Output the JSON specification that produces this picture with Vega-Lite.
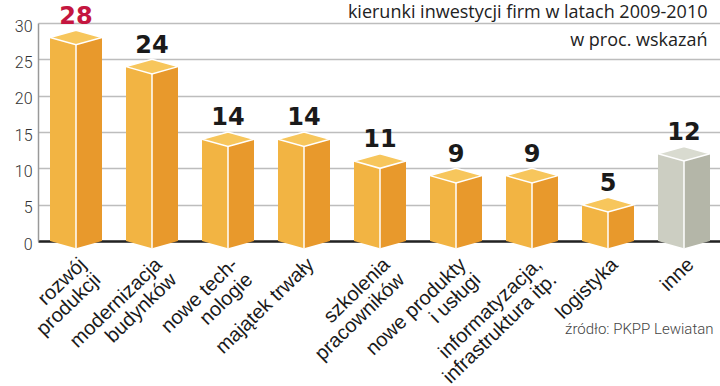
{
  "$schema": "https://vega.github.io/schema/vega-lite/v6.json",
  "width": 684,
  "height": 218,
  "autosize": {"type": "none"},
  "padding": {"left": 38, "top": 23, "right": 0, "bottom": 145},
  "background": "white",
  "config": {
    "view": {"stroke": null},
    "axisY": {
      "grid": true,
      "gridColor": "#bdbdbd",
      "gridWidth": 1.5,
      "ticks": false,
      "domainColor": "#999999",
      "domainWidth": 1.5,
      "labelFont": "Roboto",
      "labelFontWeight": 300,
      "labelFontSize": 16,
      "labelColor": "#333333",
      "labelPadding": 6,
      "labelOffset": 3,
      "zindex": 0,
      "titleAngle": 0,
      "titleX": 669,
      "titleY": -6,
      "titleAlign": "right",
      "titleBaseline": "alphabetic",
      "titleLineHeight": 28,
      "titleFont": "Open Sans",
      "titleFontSize": 18,
      "titleFontWeight": "normal",
      "titleColor": "#222222"
    }
  },
  "data": {
    "values": [
      {"kierunek": "rozwój\nprodukcji", "wartosc": 28, "grupa": "kierunek"},
      {"kierunek": "modernizacja\nbudynków", "wartosc": 24, "grupa": "kierunek"},
      {"kierunek": "nowe tech-\nnologie", "wartosc": 14, "grupa": "kierunek"},
      {"kierunek": "majątek trwały", "wartosc": 14, "grupa": "kierunek"},
      {"kierunek": "szkolenia\npracowników", "wartosc": 11, "grupa": "kierunek"},
      {"kierunek": "nowe produkty\ni usługi", "wartosc": 9, "grupa": "kierunek"},
      {"kierunek": "informatyzacja,\ninfrastruktura itp.", "wartosc": 9, "grupa": "kierunek"},
      {"kierunek": "logistyka", "wartosc": 5, "grupa": "kierunek"},
      {"kierunek": "inne", "wartosc": 12, "grupa": "inne"}
    ]
  },
  "encoding": {
    "x": {
      "field": "kierunek",
      "type": "nominal",
      "sort": null,
      "scale": {"paddingInner": 0, "paddingOuter": 0},
      "axis": {
        "labelAngle": -44,
        "labelAlign": "right",
        "labelBaseline": "top",
        "labelFont": "Liberation Sans",
        "labelFontSize": 20,
        "labelLineHeight": 21,
        "labelColor": "#1a1a1a",
        "labelExpr": "split(datum.label, '\\n')",
        "labelOverlap": false,
        "labelBound": false,
        "labelLimit": 400,
        "labelPadding": 13,
        "ticks": false,
        "domainColor": "#222222",
        "domainWidth": 2.5,
        "zindex": 0,
        "title": "źródło: PKPP Lewiatan",
        "titleX": 675,
        "titleY": 92,
        "titleAlign": "right",
        "titleBaseline": "alphabetic",
        "titleFont": "Roboto",
        "titleFontWeight": 300,
        "titleFontSize": 15,
        "titleColor": "#444444"
      }
    },
    "y": {
      "field": "wartosc",
      "type": "quantitative",
      "scale": {"domain": [0, 30], "nice": false},
      "axis": {
        "values": [0, 5, 10, 15, 20, 25, 30],
        "title": ["kierunki inwestycji firm w latach 2009-2010", "w proc. wskazań"]
      }
    }
  },
  "layer": [
    {
      "mark": {"type": "bar", "width": 52},
      "encoding": {
        "color": {"condition": {"test": "datum.grupa == 'inne'", "value": "#CCCEC2"}, "value": "#F2B443"}
      }
    },
    {
      "mark": {"type": "bar", "width": 26, "xOffset": 13},
      "encoding": {
        "color": {"condition": {"test": "datum.grupa == 'inne'", "value": "#B4B6A8"}, "value": "#E8992C"}
      }
    },
    {
      "mark": {"type": "point", "shape": "M-1,0L0,0.28L0,0Z", "filled": true, "size": 2704, "opacity": 1, "strokeWidth": 0},
      "encoding": {
        "y": {"datum": 0, "type": "quantitative", "axis": {"values": [0, 5, 10, 15, 20, 25, 30], "title": ["kierunki inwestycji firm w latach 2009-2010", "w proc. wskazań"]}},
        "color": {"condition": {"test": "datum.grupa == 'inne'", "value": "#CCCEC2"}, "value": "#F2B443"}
      }
    },
    {
      "mark": {"type": "point", "shape": "M0,0L1,0L0,0.28Z", "filled": true, "size": 2704, "opacity": 1, "strokeWidth": 0},
      "encoding": {
        "y": {"datum": 0, "type": "quantitative", "axis": {"values": [0, 5, 10, 15, 20, 25, 30], "title": ["kierunki inwestycji firm w latach 2009-2010", "w proc. wskazań"]}},
        "color": {"condition": {"test": "datum.grupa == 'inne'", "value": "#B4B6A8"}, "value": "#E8992C"}
      }
    },
    {
      "mark": {"type": "rule", "color": "white", "strokeWidth": 1.5, "yOffset": 7.3, "y2Offset": 7.3},
      "encoding": {
        "y2": {"datum": 0}
      }
    },
    {
      "mark": {"type": "point", "shape": "M-1,0L0,-0.28L1,0L0,0.28Z", "filled": true, "size": 2704, "opacity": 1, "stroke": "white", "strokeWidth": 1.5},
      "encoding": {
        "color": {"condition": {"test": "datum.grupa == 'inne'", "value": "#D9DBD0"}, "value": "#F7C65C"}
      }
    },
    {
      "mark": {"type": "text", "dy": -14, "baseline": "alphabetic", "font": "DejaVu Sans", "fontWeight": "bold", "fontSize": 24},
      "encoding": {
        "text": {"field": "wartosc", "type": "quantitative"},
        "color": {"condition": {"test": "datum.wartosc == 28", "value": "#C4163F"}, "value": "#1a1a1a"}
      }
    }
  ]
}
